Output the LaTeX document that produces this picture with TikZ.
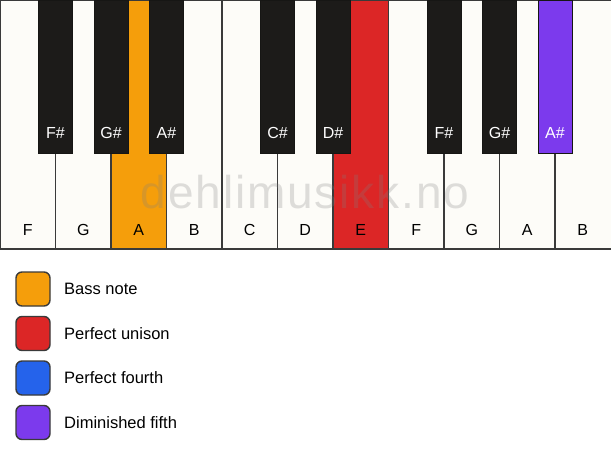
\documentclass[tikz,border=0pt]{standalone}
\usepackage{fontspec}
\setmainfont{Liberation Sans}
\definecolor{keywhite}{HTML}{FDFCF8}
\definecolor{keyblack}{HTML}{1C1B19}
\definecolor{keyline}{HTML}{3A3A3A}
\definecolor{cbass}{HTML}{F59E0B}
\definecolor{cunison}{HTML}{DC2626}
\definecolor{cfourth}{HTML}{2563EB}
\definecolor{cdim}{HTML}{7C3AED}
\tikzset{
  whitekey/.style={fill=keywhite},
  sepline/.style={draw=keyline, line width=1.4pt},
  blackkey/.style={fill=keyblack, draw=keyblack!80!black, line width=1pt},
  wlabel/.style={font=\fontsize{16}{18}\selectfont, text=black, inner sep=0pt},
  blabel/.style={font=\fontsize{16}{18}\selectfont, text=white, inner sep=0pt},
  legbox/.style={draw=keyline, line width=1.4pt, rounded corners=6pt, minimum width=34pt, minimum height=34pt, inner sep=0pt},
  legtext/.style={font=\fontsize{16.5}{18}\selectfont, anchor=west, inner sep=0pt},
  wmark/.style={font=\fontsize{46}{50}\selectfont\addfontfeature{LetterSpace=4}, text=gray, opacity=0.25, inner sep=0pt}
}
\begin{document}
\begin{tikzpicture}[x=1pt,y=-1pt]
\useasboundingbox (0,0) rectangle (611,461);
\fill[white] (0,0) rectangle (611,461);
% white keys background
\fill[whitekey] (0,0) rectangle (611,249);
% highlighted white keys
\fill[cbass] (111,0) rectangle (166.5,249);
\fill[cunison] (333,0) rectangle (388.5,249);
% separators
\foreach \i in {1,...,10} {
  \draw[sepline] (55.5*\i,0) -- (55.5*\i,249);
}
% outer frame (right edge falls outside the picture)
\draw[sepline] (611,0) -- (0,0) -- (0,249) -- (611,249);
% watermark
\node[wmark] (wm) at (305,192) {dehlimusikk.no};
% black keys
\foreach \c/\col in {55.5/keyblack,111/keyblack,166.5/keyblack,277.5/keyblack,333/keyblack,444/keyblack,499.5/keyblack,555/cdim} {
  \filldraw[blackkey, fill=\col] (\c-17,0) rectangle (\c+17,153);
}
% white key labels
\foreach \n/\t [count=\k] in {F/F,G/G,A/A,B/B,C/C,D/D,E/E,F2/F,G2/G,A2/A,B2/B} {
  \node[wlabel] (w\n) at (55.5*\k-27.75,230) {\t};
}
% black key labels
\node[blabel] (bFs) at (55.5,133) {F\#};
\node[blabel] (bGs) at (111,133) {G\#};
\node[blabel] (bAs) at (166.5,133) {A\#};
\node[blabel] (bCs) at (277.5,133) {C\#};
\node[blabel] (bDs) at (333,133) {D\#};
\node[blabel] (bFs2) at (444,133) {F\#};
\node[blabel] (bGs2) at (499.5,133) {G\#};
\node[blabel] (bAs2) at (555,133) {A\#};
% legend
\node[legbox, fill=cbass] (l1) at (33,289) {};
\node[legbox, fill=cunison] (l2) at (33,333.5) {};
\node[legbox, fill=cfourth] (l3) at (33,378) {};
\node[legbox, fill=cdim] (l4) at (33,422.5) {};
\node[legtext] (t1) at (64,289) {Bass note};
\node[legtext] (t2) at (64,333.5) {Perfect unison};
\node[legtext] (t3) at (64,378) {Perfect fourth};
\node[legtext] (t4) at (64,422.5) {Diminished fifth};
\end{tikzpicture}
\end{document}
